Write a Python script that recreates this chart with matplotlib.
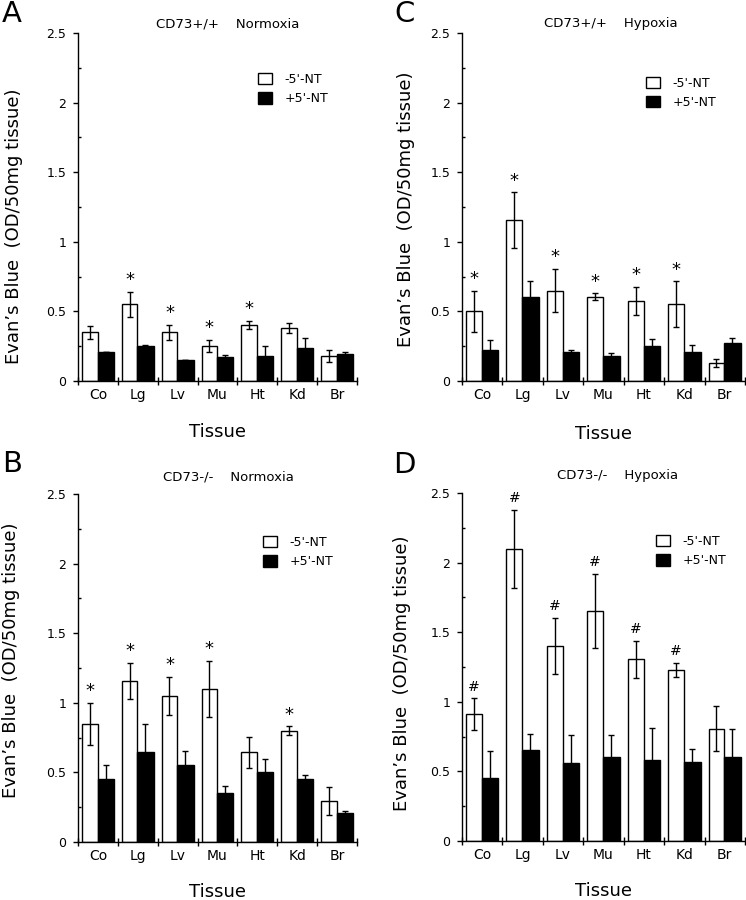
import numpy as np
import matplotlib
matplotlib.use('Agg')
import matplotlib.pyplot as plt
from matplotlib.patches import Patch

plt.rcParams['font.family'] = ['DejaVu Sans']

tissues = ['Co', 'Lg', 'Lv', 'Mu', 'Ht', 'Kd', 'Br']

# --- A: CD73+/+ Normoxia ---
a_minus = [0.35, 0.55, 0.35, 0.25, 0.40, 0.38, 0.18]
a_minus_err = [0.045, 0.09, 0.055, 0.045, 0.03, 0.035, 0.045]
a_plus = [0.21, 0.25, 0.15, 0.17, 0.18, 0.235, 0.195]
a_plus_err = [0.0, 0.01, 0.0, 0.015, 0.075, 0.075, 0.01]
a_marks = ['', '*', '*', '*', '*', '', '']

# --- C: CD73+/+ Hypoxia ---
c_minus = [0.50, 1.155, 0.65, 0.605, 0.575, 0.55, 0.13]
c_minus_err = [0.15, 0.20, 0.155, 0.025, 0.10, 0.165, 0.03]
c_plus = [0.225, 0.605, 0.21, 0.18, 0.25, 0.21, 0.275]
c_plus_err = [0.07, 0.11, 0.01, 0.02, 0.055, 0.05, 0.035]
c_marks = ['*', '*', '*', '*', '*', '*', '']

# --- B: CD73-/- Normoxia ---
b_minus = [0.85, 1.155, 1.05, 1.10, 0.645, 0.80, 0.295]
b_minus_err = [0.15, 0.13, 0.135, 0.20, 0.11, 0.03, 0.10]
b_plus = [0.455, 0.647, 0.555, 0.355, 0.50, 0.455, 0.205]
b_plus_err = [0.10, 0.20, 0.10, 0.05, 0.095, 0.025, 0.02]
b_marks = ['*', '*', '*', '*', '', '*', '']

# --- D: CD73-/- Hypoxia ---
d_minus = [0.91, 2.10, 1.40, 1.655, 1.305, 1.228, 0.808]
d_minus_err = [0.115, 0.28, 0.20, 0.265, 0.135, 0.05, 0.16]
d_plus = [0.455, 0.653, 0.557, 0.605, 0.58, 0.57, 0.605]
d_plus_err = [0.19, 0.115, 0.205, 0.16, 0.23, 0.09, 0.20]
d_marks = ['#', '#', '#', '#', '#', '#', '']

legend_labels = ["-5'-NT", "+5'-NT"]

fig = plt.figure(figsize=(7.46, 9), dpi=100)
W, H = 746.0, 900.0


def px_axes(left, right, top, bottom):
    return fig.add_axes([left / W, 1 - bottom / H, (right - left) / W, (bottom - top) / H])


def draw_panel(ax, minus, minus_err, plus, plus_err, marks, title, title_pos,
               ylab_pos, xlab_y, leg_pos):
    x = np.arange(len(tissues))
    w = 0.39
    ax.bar(x + 0.1, minus, width=w, align='edge', color='white', edgecolor='black',
           linewidth=1.0, zorder=2)
    ax.bar(x + 0.1 + w, plus, width=w + 0.02, align='edge', color='black',
           edgecolor='black', linewidth=1.0, zorder=2)
    ax.errorbar(x + 0.1 + w / 2, minus, yerr=minus_err, fmt='none', ecolor='black',
                elinewidth=1.0, capsize=2.5, capthick=1.0, zorder=3)
    ax.errorbar(x + 0.1 + w + 0.2, plus, yerr=plus_err, fmt='none', ecolor='black',
                elinewidth=1.0, capsize=2.5, capthick=1.0, zorder=3)
    for i, m in enumerate(marks):
        if not m:
            continue
        top = minus[i] + minus_err[i]
        if m == '*':
            ax.annotate(m, (x[i] + 0.1 + w / 2, top), xytext=(0, 2), textcoords='offset points',
                        ha='center', va='bottom', fontsize=13)
        else:
            ax.annotate(m, (x[i] + 0.1 + w / 2, top), xytext=(0, 8.5), textcoords='offset points',
                        ha='center', va='center', fontsize=10)

    ax.set_xlim(0, len(tissues))
    ax.set_ylim(0, 2.5)
    ax.spines['top'].set_visible(False)
    ax.spines['right'].set_visible(False)
    ax.spines['left'].set_linewidth(1.0)
    ax.spines['bottom'].set_linewidth(1.0)

    # tick marks at group boundaries, labels at centres
    ax.set_xticks(np.arange(len(tissues) + 1))
    ax.set_xticklabels([])
    ax.set_xticks(x + 0.5, minor=True)
    ax.set_xticklabels(tissues, minor=True, fontsize=10)
    ax.tick_params(axis='x', which='major', direction='inout', length=6, width=1.0)
    ax.tick_params(axis='x', which='minor', length=0, pad=5)

    ax.set_yticks([0, 0.5, 1, 1.5, 2, 2.5])
    ax.set_yticklabels(['0', '0.5', '1', '1.5', '2', '2.5'], fontsize=9)
    ax.set_yticks(np.arange(0.25, 2.5, 0.5), minor=True)
    ax.tick_params(axis='y', which='major', direction='out', length=3.5, width=1.0, pad=5)
    ax.tick_params(axis='y', which='minor', direction='in', length=2, width=1.0)

    ax.set_ylabel("Evan\u2019s Blue  (OD/50mg tissue)", fontsize=13)
    ax.yaxis.set_label_coords(*ylab_pos)
    ax.set_xlabel('Tissue', fontsize=13)
    ax.xaxis.set_label_coords(0.5, xlab_y)

    ax.text(title_pos[0], title_pos[1], title, transform=ax.transAxes,
            ha='center', va='center', fontsize=9.5)

    handles = [Patch(facecolor='white', edgecolor='black', linewidth=1.0),
               Patch(facecolor='black', edgecolor='black', linewidth=1.0)]
    ax.legend(handles, legend_labels, loc='upper left', bbox_to_anchor=leg_pos,
              frameon=False, fontsize=9, handlelength=1.1, handleheight=1.0,
              handletextpad=1.0, labelspacing=0.5, borderpad=0, borderaxespad=0)


axA = px_axes(78, 357, 33, 381)
axC = px_axes(462, 745, 33, 381)
axB = px_axes(78, 357, 494, 842)
axD = px_axes(462, 745, 493, 841)

draw_panel(axA, a_minus, a_minus_err, a_plus, a_plus_err, a_marks,
           'CD73+/+    Normoxia', (0.538, 1.026), (-0.197, 0.445), -0.12, (0.645, 0.885))
draw_panel(axC, c_minus, c_minus_err, c_plus, c_plus_err, c_marks,
           'CD73+/+    Hypoxia', (0.527, 1.026), (-0.166, 0.494), -0.126, (0.650, 0.874))
draw_panel(axB, b_minus, b_minus_err, b_plus, b_plus_err, b_marks,
           'CD73-/-    Normoxia', (0.538, 1.049), (-0.208, 0.523), -0.118, (0.663, 0.879))
draw_panel(axD, d_minus, d_minus_err, d_plus, d_plus_err, d_marks,
           'CD73-/-    Hypoxia', (0.55, 1.049), (-0.180, 0.483), -0.118, (0.686, 0.879))

for letter, (px, py) in zip('ACBD', [(12, 22), (405, 22), (12, 472), (404, 473)]):
    fig.text(px / W, 1 - py / H, letter, fontsize=21, ha='center', va='baseline')

fig.savefig('out.png', dpi=100)
